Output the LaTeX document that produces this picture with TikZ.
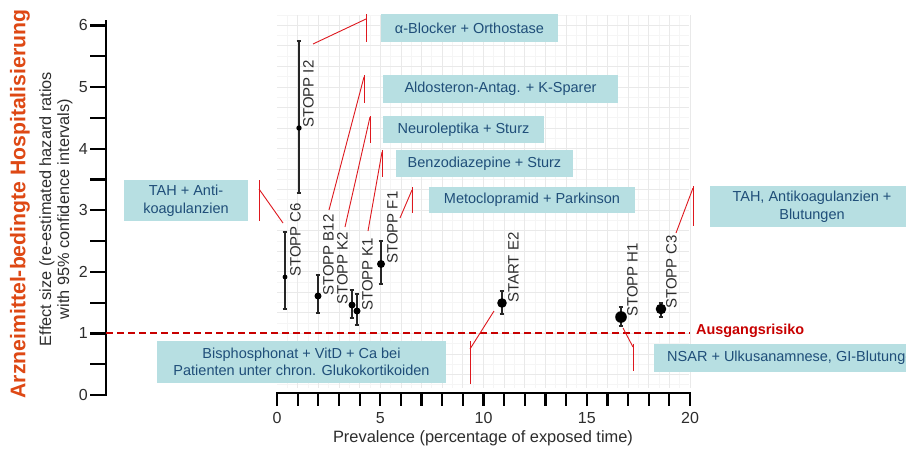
\documentclass[tikz,border=0pt]{standalone}
\usepackage{fontspec}
\setmainfont{Liberation Sans}
\usetikzlibrary{calc}
\definecolor{boxfill}{RGB}{183,223,226}
\definecolor{boxtext}{RGB}{31,78,121}
\definecolor{callred}{RGB}{222,24,30}
\definecolor{titlered}{RGB}{222,72,20}
\definecolor{basered}{RGB}{200,0,0}
\definecolor{axisgray}{RGB}{45,45,45}
\definecolor{gridmajor}{RGB}{233,233,233}
\definecolor{gridminor}{RGB}{245,245,245}
\begin{document}
\begin{tikzpicture}[x=1pt,y=-1pt,
  callout/.style={fill=boxfill, text=boxtext, font=\fontsize{14.5}{17.5}\selectfont, align=center, inner sep=0pt},
  ptlabel/.style={rotate=90, anchor=north west, inner sep=0pt, font=\fontsize{15}{17}\selectfont, text=axisgray},
  whisker/.style={line width=1.8pt, draw=black!85},
  dot/.style={circle, fill=black, inner sep=0pt},
  conn/.style={draw=callred, line width=0.9pt},
  axisline/.style={line width=2.2pt, draw=black},
  ticklab/.style={inner sep=0pt, font=\fontsize{16}{18}\selectfont, text=axisgray},
  ]
\clip (0,0) rectangle (906,448);
\fill[white] (0,0) rectangle (906,448);
% grid
\foreach \k in {1,3,...,39} \draw[gridminor, line width=0.8pt] ({277+10.325*\k},15) -- ({277+10.325*\k},388);
\foreach \k in {1,3,...,37} \draw[gridminor, line width=0.8pt] (277,{395-10.27*\k}) -- (689,{395-10.27*\k});
\foreach \k in {2,4,...,40} \draw[gridmajor, line width=0.8pt] ({277+10.325*\k},15) -- ({277+10.325*\k},388);
\foreach \k in {2,4,...,36} \draw[gridmajor, line width=0.8pt] (277,{395-10.27*\k}) -- (689,{395-10.27*\k});
% titles
\node[rotate=90, inner sep=0pt, font=\bfseries\fontsize{21.2}{24}\selectfont, text=titlered] (title) at (20,204) {Arzneimittel-bedingte Hospitalisierung};
\node[rotate=90, inner sep=0pt, align=center, font=\fontsize{16.3}{18}\selectfont, text=axisgray] (ytitle) at (56,209) {Effect size (re-estimated hazard ratios\\with 95\% confidence intervals)};
% y axis
\draw[axisline] (106,20) -- (106,396);
\foreach \k in {0,...,12} \draw[axisline] (90,{395-30.8*\k}) -- (106,{395-30.8*\k});
\foreach \k in {0,...,6} \node[ticklab, anchor=east] (yl\k) at (88,{395-61.6*\k}) {\k};
% x axis
\draw[axisline] (276,393) -- (691,393);
\foreach \k in {0,...,20} \draw[axisline] ({277+20.65*\k},392) -- ({277+20.65*\k},406);
\foreach \k in {0,5,10,15,20} \node[ticklab, anchor=north] (xl\k) at ({277+20.65*\k},412.5) {\k};
\node[ticklab, anchor=base, font=\fontsize{16.4}{18}\selectfont] (xtitle) at (483,442) {Prevalence (percentage of exposed time)};
% baseline
\draw[basered, dash pattern=on 7pt off 4pt, line width=1.3pt] (106,333) -- (690,333);
\node[anchor=west, inner sep=0pt, font=\bfseries\fontsize{14.4}{17}\selectfont, text=basered] (base) at (696,331) {Ausgangsrisiko};
% data
\foreach \n/\x/\y/\lo/\hi/\r in {I2/299/128/193/41/2.7, C6/285/277/309/232/2.4, B12/318/296/313/275/3.5, K2/352/305/318/290/3.5, K1/357/311/325/294/3.5, F1/381/264/284/241/4.0, E2/502/303/314/291/4.8, H1/621/317/326/307/5.8, C3/661/309/317/303/5.3} {
  \draw[whisker] (\x,\lo) -- (\x,\hi);
  \draw[whisker] (\x-2.3,\lo) -- (\x+2.3,\lo);
  \draw[whisker] (\x-2.3,\hi) -- (\x+2.3,\hi);
  \node[dot, minimum size={2*\r pt}] (p\n) at (\x,\y) {};
}
\node[ptlabel] (lI2) at (303,128) {STOPP I2};
\node[ptlabel] (lC6) at (290,277) {STOPP C6};
\node[ptlabel] (lB12) at (323,296) {STOPP B12};
\node[ptlabel] (lK2) at (337,305) {STOPP K2};
\node[ptlabel] (lK1) at (362,311) {STOPP K1};
\node[ptlabel] (lF1) at (387,264) {STOPP F1};
\node[ptlabel] (lE2) at (508,303) {START E2};
\node[ptlabel] (lH1) at (627,317) {STOPP H1};
\node[ptlabel] (lC3) at (666,309) {STOPP C3};
% callout boxes
\node[callout, minimum width=177pt, minimum height=28pt] (bA) at (469.5,28) {α-Blocker + Orthostase};
\node[callout, minimum width=235pt, minimum height=28pt] (bB) at (500.5,89) {Aldosteron-Antag. + K-Sparer};
\node[callout, minimum width=161pt, minimum height=27pt] (bC) at (463.5,129.5) {Neuroleptika + Sturz};
\node[callout, minimum width=177pt, minimum height=27pt] (bD) at (484.5,163.5) {Benzodiazepine + Sturz};
\node[callout, minimum width=206pt, minimum height=26pt] (bE) at (532,200) {Metoclopramid + Parkinson};
\node[callout, minimum width=124pt, minimum height=41pt] (bF) at (186,200.5) {TAH + Anti-\\koagulanzien};
\node[callout, minimum width=289pt, minimum height=42pt] (bG) at (301.5,362) {Bisphosphonat + VitD + Ca bei\\Patienten unter chron. Glukokortikoiden};
\node[callout, minimum width=204pt, minimum height=41pt] (bH) at (812,206.5) {TAH, Antikoagulanzien +\\Blutungen};
\node[callout, anchor=west, inner xsep=13pt, minimum height=28pt] (bI) at (654,358) {NSAR + Ulkusanamnese, GI-Blutungen};
% connector coordinates
\coordinate (a1) at (313,44); \coordinate (a2) at (366,19); \coordinate (a3) at (366,14); \coordinate (a4) at (366,42);
\coordinate (b1) at (329,210); \coordinate (b2) at (364,77); \coordinate (b3) at (364,75); \coordinate (b4) at (364,103);
\coordinate (c1) at (345,227); \coordinate (c2) at (370,117); \coordinate (c3) at (370,116); \coordinate (c4) at (370,143);
\coordinate (d1) at (368,231); \coordinate (d2) at (382,152); \coordinate (d3) at (382,150); \coordinate (d4) at (382,177);
\coordinate (e1) at (400,218); \coordinate (e2) at (412,190); \coordinate (e3) at (412,187); \coordinate (e4) at (412,213);
\coordinate (f1) at (283,223); \coordinate (f2) at (259,189); \coordinate (f3) at (259,180); \coordinate (f4) at (259,221);
\coordinate (g1) at (494,311); \coordinate (g2) at (470,349); \coordinate (g3) at (470,341); \coordinate (g4) at (470,384);
\coordinate (h1) at (676,233); \coordinate (h2) at (693,188); \coordinate (h3) at (693,186); \coordinate (h4) at (693,226);
\coordinate (i1) at (623,328); \coordinate (i2) at (633,347); \coordinate (i3) at (633,344); \coordinate (i4) at (633,371);
\foreach \c in {a,b,c,d,e,f,g,h,i} {
  \draw[conn] (\c1) -- (\c2);
  \draw[conn] (\c3) -- (\c4);
}
\end{tikzpicture}
\end{document}
